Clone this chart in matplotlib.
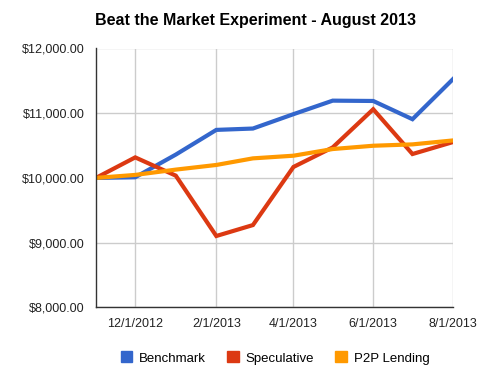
import matplotlib
matplotlib.use("Agg")
import matplotlib.pyplot as plt
import matplotlib.dates as mdates
from matplotlib.patches import Patch
import datetime as dt

months = ["2012-11-01", "2012-12-01", "2013-01-01", "2013-02-01", "2013-03-01",
          "2013-04-01", "2013-05-01", "2013-06-01", "2013-07-01", "2013-08-01"]
benchmark = [10000, 10010, 10360, 10742, 10763, 10985, 11194, 11189, 10907, 11527]
speculative = [10000, 10317, 10035, 9102, 9271, 10169, 10471, 11061, 10369, 10554]
p2p = [10000, 10046, 10128, 10200, 10302, 10343, 10446, 10497, 10518, 10579]
series_names = ["Benchmark", "Speculative", "P2P Lending"]
colors = ["#3366cc", "#dc3912", "#ff9900"]
tick_dates = ["2012-12-01", "2013-02-01", "2013-04-01", "2013-06-01", "2013-08-01"]
tick_labels = ["12/1/2012", "2/1/2013", "4/1/2013", "6/1/2013", "8/1/2013"]
y_ticks = [8000, 9000, 10000, 11000, 12000]

plt.rcParams['font.family'] = ['Liberation Sans', 'DejaVu Sans']

x = [dt.datetime.strptime(m, "%Y-%m-%d") for m in months]
xt = [dt.datetime.strptime(m, "%Y-%m-%d") for m in tick_dates]

fig = plt.figure(figsize=(4.93, 3.79), dpi=100)
ax = fig.add_axes([96/493, 1-307.3/379, (453-96)/493, (307.3-48.5)/379])

for vals, c in zip([benchmark, speculative, p2p], colors):
    ax.plot(x, vals, color=c, lw=3.0, solid_joinstyle='miter', zorder=3)

ax.set_xlim(x[0], x[-1])
ax.set_ylim(8000, 12000)
ax.set_yticks(y_ticks)
ax.set_yticklabels(["${:,.2f}".format(v) for v in y_ticks])
ax.set_xticks(xt)
ax.set_xticklabels(tick_labels)
ax.tick_params(length=0, labelsize=9, colors="#222222")
ax.tick_params(axis='y', pad=8)
ax.tick_params(axis='x', pad=8)
ax.grid(True, color="#cccccc", lw=1)
ax.set_axisbelow(True)
for s in ["top", "right"]:
    ax.spines[s].set_visible(False)
for s in ["left", "bottom"]:
    ax.spines[s].set_color("#333333")
    ax.spines[s].set_linewidth(1)
    ax.spines[s].set_zorder(4)

fig.text(255/493, 1-20/379, "Beat the Market Experiment - August 2013", ha="center", va="center",
         fontsize=11.5, fontweight="bold")

handles = [Patch(facecolor=c, edgecolor=c) for c in colors]
fig.legend(handles, series_names, loc="center", bbox_to_anchor=(275/493, 1-358/379), ncol=3,
           frameon=False, fontsize=9.5, handlelength=0.9, handleheight=0.9,
           handletextpad=0.5, columnspacing=1.6)

fig.savefig("out.png", dpi=100)
